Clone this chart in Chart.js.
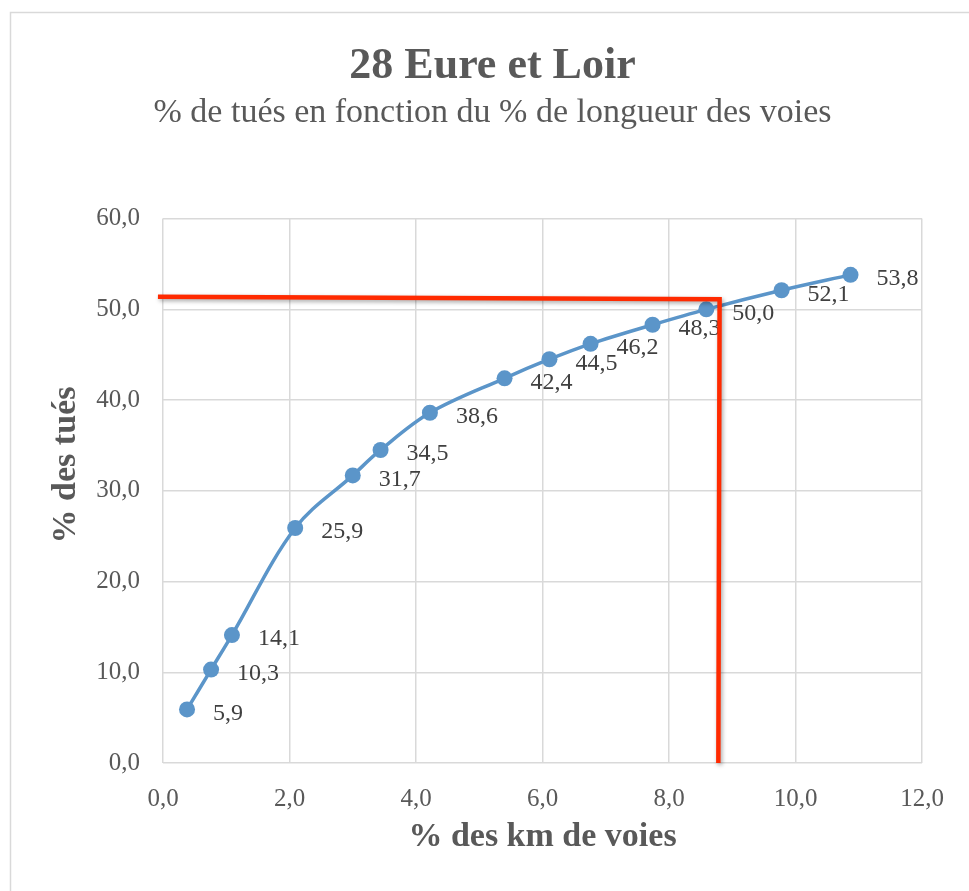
<!DOCTYPE html>
<html>
<head>
<meta charset="utf-8">
<script src="https://cdn.jsdelivr.net/npm/chart.js@4/dist/chart.umd.min.js"></script>
<style>
  html, body { margin: 0; padding: 0; background: #fff; }
  canvas { display: block; }
</style>
</head>
<body>
<canvas id="chart" width="969" height="891"></canvas>
<script>
// données
const kmVoies = [0.38, 0.76, 1.09, 2.09, 3.00, 3.44, 4.22, 5.40, 6.11, 6.76, 7.74, 8.59, 9.78, 10.87]
const tues = [5.9, 10.3, 14.1, 25.9, 31.7, 34.5, 38.6, 42.4, 44.5, 46.2, 48.3, 50.0, 52.1, 53.8]

// repère rouge (ligne tracée à la main sur le graphique)
const repereX = [-0.08, 8.80, 8.78]
const repereY = [51.4, 51.1, 0]

const xTicks = [0, 2, 4, 6, 8, 10, 12]
const yTicks = [0, 10, 20, 30, 40, 50, 60]

const serif = "'Liberation Serif', 'DejaVu Serif', serif"
const fmt = (v) => v.toFixed(1).replace('.', ',')

const courbe = kmVoies.map((x, i) => ({ x, y: tues[i] }))
const repere = repereX.map((x, i) => ({ x, y: repereY[i] }))

const fondPlugin = {
  id: 'fond',
  beforeDraw(chart) {
    const ctx = chart.ctx
    ctx.save()
    ctx.fillStyle = '#fff'
    ctx.fillRect(0, 0, chart.width, chart.height)
    ctx.strokeStyle = '#d9d9d9'
    ctx.lineWidth = 1.5
    ctx.strokeRect(10.5, 12.5, chart.width + 10, chart.height + 10)
    ctx.restore()
  },
  afterDraw(chart) {
    // titre de l'axe vertical
    const ctx = chart.ctx
    ctx.save()
    ctx.translate(66, 465)
    ctx.rotate(-Math.PI / 2)
    ctx.font = `bold 34px ${serif}`
    ctx.fillStyle = '#595959'
    ctx.textAlign = 'center'
    ctx.textBaseline = 'middle'
    ctx.fillText('% des tués', 0, 0)
    ctx.restore()
  },
  beforeDatasetDraw(chart, args) {
    if (args.index === 0) {
      const ctx = chart.ctx
      ctx.save()
      ctx.shadowColor = 'rgba(0,0,0,0.35)'
      ctx.shadowBlur = 4
      ctx.shadowOffsetX = 1.5
      ctx.shadowOffsetY = 2
    }
  },
  afterDatasetDraw(chart, args) {
    const ctx = chart.ctx
    if (args.index === 0) {
      ctx.restore()
      return
    }
    // étiquettes de données
    const meta = chart.getDatasetMeta(args.index)
    ctx.save()
    ctx.font = `24px ${serif}`
    ctx.fillStyle = '#404040'
    ctx.textAlign = 'left'
    ctx.textBaseline = 'middle'
    meta.data.forEach((pt, i) => {
      ctx.fillText(fmt(tues[i]), pt.x + 26, pt.y + 4)
    })
    ctx.restore()
  }
}

new Chart(document.getElementById('chart'), {
  type: 'scatter',
  data: {
    datasets: [
      {
        label: 'repère',
        data: repere,
        showLine: true,
        tension: 0,
        borderColor: '#ff2a00',
        borderWidth: 4.5,
        borderJoinStyle: 'miter',
        borderCapStyle: 'butt',
        pointRadius: 0,
        clip: false,
        order: 0
      },
      {
        label: '% des tués',
        data: courbe,
        showLine: true,
        tension: 0.35,
        borderColor: '#5b95c9',
        backgroundColor: '#5b95c9',
        borderWidth: 3.5,
        pointRadius: 8,
        pointBorderWidth: 0,
        order: 1
      }
    ]
  },
  options: {
    responsive: false,
    animation: false,
    layout: { padding: { left: 16, right: 0, top: 0, bottom: 0 } },
    plugins: {
      legend: { display: false },
      tooltip: { enabled: false },
      title: {
        display: true,
        text: '28 Eure et Loir',
        color: '#595959',
        font: { family: serif, size: 44, weight: 'bold', lineHeight: 1.2 },
        padding: { top: 40, bottom: 0 }
      },
      subtitle: {
        display: true,
        text: '% de tués en fonction du % de longueur des voies',
        color: '#595959',
        font: { family: serif, size: 34, lineHeight: 1.2 },
        padding: { top: 0, bottom: 85 }
      }
    },
    scales: {
      x: {
        type: 'linear',
        min: 0,
        max: 12,
        afterBuildTicks: (scale) => { scale.ticks = xTicks.map((v) => ({ value: v })) },
        afterFit: (scale) => { scale.height = 128 },
        ticks: {
          color: '#595959',
          font: { family: serif, size: 25 },
          padding: 21,
          callback: (v) => fmt(v)
        },
        grid: { color: '#d9d9d9', lineWidth: 1.5, drawTicks: false },
        border: { display: false },
        title: {
          display: true,
          text: '% des km de voies',
          color: '#595959',
          font: { family: serif, size: 34, weight: 'bold', lineHeight: 1.2 },
          padding: { top: 0, bottom: 33 }
        }
      },
      y: {
        type: 'linear',
        min: 0,
        max: 60,
        afterBuildTicks: (scale) => { scale.ticks = yTicks.map((v) => ({ value: v })) },
        afterFit: (scale) => { scale.width = 147 },
        ticks: {
          color: '#595959',
          font: { family: serif, size: 25 },
          padding: 23,
          callback: (v) => fmt(v)
        },
        grid: { color: '#d9d9d9', lineWidth: 1.5, drawTicks: false },
        border: { display: false }
      },
      marge: {
        // marge à droite de la zone de tracé
        type: 'linear',
        position: 'right',
        min: 0,
        max: 60,
        afterFit: (scale) => { scale.width = 47 },
        ticks: { display: false },
        grid: { display: false },
        border: { display: false }
      }
    }
  },
  plugins: [fondPlugin]
})
</script>
</body>
</html>
